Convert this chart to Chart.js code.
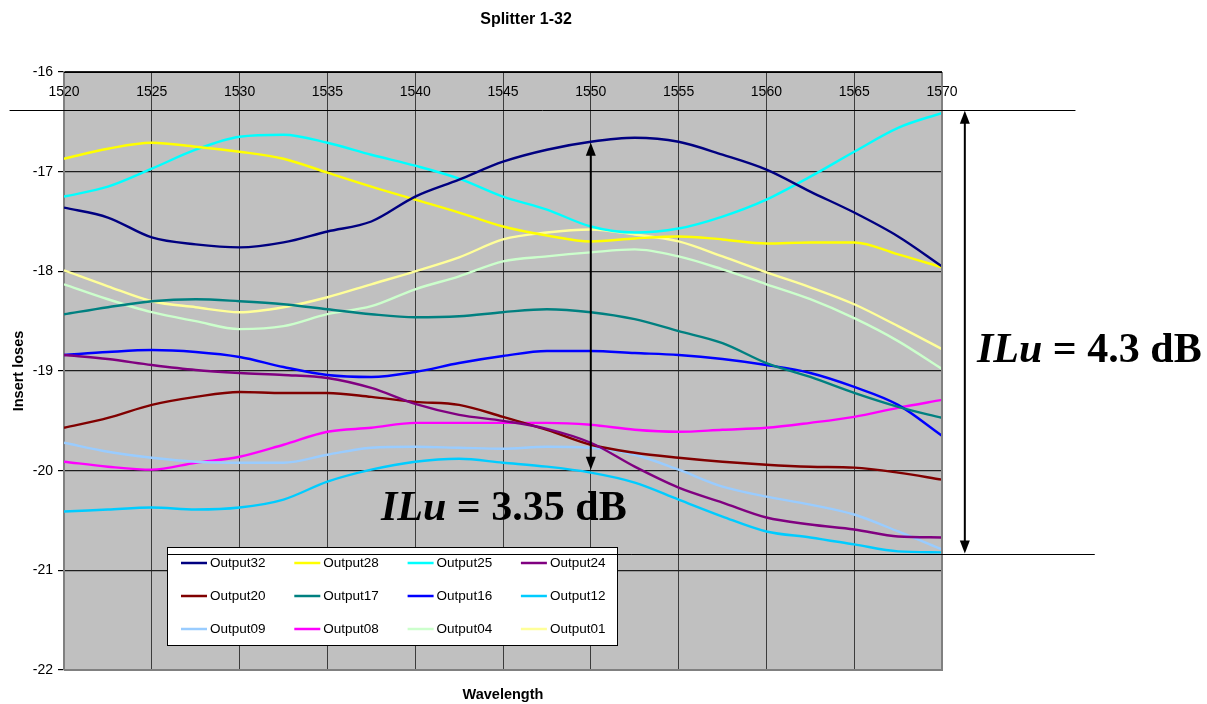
<!DOCTYPE html>
<html>
<head>
<meta charset="utf-8">
<script src="https://cdn.jsdelivr.net/npm/chart.js@4.4.1/dist/chart.umd.min.js"></script>
<style>
html,body{margin:0;padding:0;background:#ffffff;}
#wrap{width:1207px;height:704px;position:relative;}
</style>
</head>
<body>
<div id="wrap"><canvas id="c"></canvas></div>
<script>
// ---------- DATA ----------
const chartTitle = 'Splitter 1-32';
const xAxisTitle = 'Wavelength';
const yAxisTitle = 'Insert loses';
const xTickLabels = [1520, 1525, 1530, 1535, 1540, 1545, 1550, 1555, 1560, 1565, 1570];
const yTickValues = [-16, -17, -18, -19, -20, -21, -22];

const wavelengths = [1520, 1522.5, 1525, 1527.5, 1530, 1532.5, 1535, 1537.5, 1540, 1542.5, 1545,
                     1547.5, 1550, 1552.5, 1555, 1557.5, 1560, 1562.5, 1565, 1567.5, 1570];

const output32 = [-17.36, -17.46, -17.66, -17.73, -17.76, -17.71, -17.60, -17.50, -17.25, -17.08, -16.90,
                  -16.78, -16.70, -16.66, -16.70, -16.83, -16.98, -17.20, -17.41, -17.65, -17.95];
const output28 = [-16.87, -16.77, -16.71, -16.75, -16.80, -16.87, -17.01, -17.15, -17.28, -17.41, -17.55,
                  -17.64, -17.70, -17.67, -17.65, -17.68, -17.72, -17.71, -17.71, -17.83, -17.96];
const output25 = [-17.25, -17.15, -16.97, -16.78, -16.65, -16.63, -16.71, -16.83, -16.94, -17.07, -17.25,
                  -17.38, -17.55, -17.61, -17.57, -17.45, -17.28, -17.05, -16.80, -16.56, -16.41];
const output24 = [-18.84, -18.88, -18.94, -18.99, -19.02, -19.04, -19.07, -19.17, -19.33, -19.44, -19.50,
                  -19.58, -19.72, -19.96, -20.17, -20.32, -20.47, -20.54, -20.59, -20.66, -20.67];
const output20 = [-19.57, -19.47, -19.34, -19.26, -19.21, -19.22, -19.22, -19.26, -19.31, -19.34, -19.46,
                  -19.59, -19.74, -19.82, -19.87, -19.91, -19.94, -19.96, -19.97, -20.02, -20.09];
const output17 = [-18.43, -18.36, -18.30, -18.28, -18.30, -18.33, -18.38, -18.43, -18.46, -18.45, -18.41,
                  -18.38, -18.41, -18.48, -18.60, -18.72, -18.92, -19.06, -19.22, -19.36, -19.47];
const output16 = [-18.84, -18.81, -18.79, -18.81, -18.86, -18.96, -19.04, -19.06, -19.01, -18.92, -18.85,
                  -18.80, -18.80, -18.82, -18.84, -18.88, -18.94, -19.02, -19.16, -19.34, -19.65];
const output12 = [-20.41, -20.39, -20.37, -20.39, -20.37, -20.29, -20.11, -19.99, -19.91, -19.88, -19.92,
                  -19.96, -20.02, -20.12, -20.29, -20.46, -20.61, -20.67, -20.74, -20.81, -20.82];
const output09 = [-19.72, -19.81, -19.87, -19.91, -19.92, -19.92, -19.84, -19.77, -19.76, -19.77, -19.78,
                  -19.76, -19.77, -19.84, -19.99, -20.16, -20.26, -20.34, -20.44, -20.61, -20.79];
const output08 = [-19.91, -19.96, -19.99, -19.92, -19.86, -19.74, -19.61, -19.57, -19.52, -19.52, -19.52,
                  -19.52, -19.54, -19.59, -19.61, -19.59, -19.57, -19.52, -19.46, -19.37, -19.29];
const output04 = [-18.13, -18.28, -18.41, -18.50, -18.58, -18.55, -18.43, -18.35, -18.18, -18.05, -17.90,
                  -17.85, -17.81, -17.78, -17.85, -17.98, -18.13, -18.28, -18.47, -18.70, -18.98];
const output01 = [-17.99, -18.15, -18.30, -18.36, -18.41, -18.36, -18.26, -18.13, -18.00, -17.86, -17.68,
                  -17.61, -17.58, -17.63, -17.70, -17.85, -18.01, -18.16, -18.33, -18.55, -18.78];

const seriesNames = ['Output32', 'Output28', 'Output25', 'Output24',
                     'Output20', 'Output17', 'Output16', 'Output12',
                     'Output09', 'Output08', 'Output04', 'Output01'];
const seriesValues = [output32, output28, output25, output24,
                      output20, output17, output16, output12,
                      output09, output08, output04, output01];

// annotation values (data units)
const ilu335 = { label: ' = 3.35 dB', x: 1550, top: -16.71, bottom: -19.99 };
const ilu43  = { label: ' = 4.3 dB', x: 1571.3, top: -16.38, bottom: -20.84 };

// ---------- STYLES ----------
const seriesColors = ['#000080', '#FFFF00', '#00FFFF', '#800080',
                      '#800000', '#008080', '#0000FF', '#00CCFF',
                      '#99CCFF', '#FF00FF', '#CCFFCC', '#FFFF99'];
const SANS = '"Liberation Sans", Arial, sans-serif';
const SERIF = '"Liberation Serif", "Times New Roman", serif';

const datasets = seriesNames.map((name, k) => ({
  label: name,
  data: wavelengths.map((w, i) => ({ x: w, y: seriesValues[k][i] })),
  borderColor: seriesColors[k],
  backgroundColor: seriesColors[k],
  borderWidth: 2.4,
  pointRadius: 0,
  cubicInterpolationMode: 'monotone',
  fill: false
}));

const decor = {
  id: 'decor',
  beforeDraw(chart) {
    const { ctx, chartArea: a } = chart;
    ctx.save();
    ctx.fillStyle = '#C0C0C0';
    ctx.fillRect(a.left, a.top, a.right - a.left, a.bottom - a.top);
    ctx.restore();
  },
  afterDraw(chart) {
    const { ctx, chartArea: a } = chart;
    const xs = chart.scales.x, ys = chart.scales.y;
    ctx.save();
    // plot border (right & bottom)
    ctx.strokeStyle = '#808080';
    ctx.lineWidth = 2;
    ctx.beginPath();
    ctx.moveTo(a.right, a.top); ctx.lineTo(a.right, a.bottom); ctx.lineTo(a.left, a.bottom);
    ctx.stroke();
    // top border
    ctx.strokeStyle = '#000';
    ctx.lineWidth = 1;
    ctx.beginPath();
    ctx.moveTo(a.left, a.top + 0.5); ctx.lineTo(a.right, a.top + 0.5);
    ctx.stroke();

    // x tick labels (inside, below top edge)
    ctx.fillStyle = '#000';
    ctx.font = '14px ' + SANS;
    ctx.textAlign = 'center';
    ctx.textBaseline = 'middle';
    xTickLabels.forEach(v => ctx.fillText(String(v), xs.getPixelForValue(v), a.top + 20));

    // title
    ctx.font = 'bold 16px ' + SANS;
    ctx.fillText(chartTitle, 526, 20);
    // x axis title
    ctx.font = 'bold 14.5px ' + SANS;
    ctx.fillText(xAxisTitle, (a.left + a.right) / 2, 695);

    // legend
    const lx = 167, ly = 547, lw = 450, lh = 98;
    ctx.fillStyle = '#fff';
    ctx.fillRect(lx, ly, lw, lh);
    ctx.strokeStyle = '#000';
    ctx.lineWidth = 1;
    ctx.strokeRect(lx + 0.5, ly + 0.5, lw, lh);
    ctx.font = '13.5px ' + SANS;
    ctx.textAlign = 'left';
    ctx.textBaseline = 'middle';
    seriesNames.forEach((name, k) => {
      const col = k % 4, row = Math.floor(k / 4);
      const x0 = 181 + col * 113.3, y0 = 563 + row * 33;
      ctx.strokeStyle = seriesColors[k];
      ctx.lineWidth = 2.5;
      ctx.beginPath(); ctx.moveTo(x0, y0); ctx.lineTo(x0 + 26, y0); ctx.stroke();
      ctx.fillStyle = '#000';
      ctx.fillText(name, x0 + 29, y0 + 0.5);
    });

    // annotation horizontal reference lines
    ctx.strokeStyle = '#000';
    ctx.lineWidth = 1;
    const yTop = ys.getPixelForValue(ilu43.top), yBot = ys.getPixelForValue(ilu43.bottom);
    ctx.beginPath();
    ctx.moveTo(xs.getPixelForValue(1516.9), Math.round(yTop) + 0.5);
    ctx.lineTo(xs.getPixelForValue(1577.6), Math.round(yTop) + 0.5);
    ctx.moveTo(xs.getPixelForValue(1525.9), Math.round(yBot) + 0.5);
    ctx.lineTo(xs.getPixelForValue(1578.7), Math.round(yBot) + 0.5);
    ctx.stroke();

    function dblArrow(x, y1, y2) {
      const hl = 13, hw = 5;
      ctx.strokeStyle = '#000'; ctx.fillStyle = '#000'; ctx.lineWidth = 2;
      ctx.beginPath(); ctx.moveTo(x, y1 + hl - 1); ctx.lineTo(x, y2 - hl + 1); ctx.stroke();
      ctx.beginPath(); ctx.moveTo(x, y1); ctx.lineTo(x - hw, y1 + hl); ctx.lineTo(x + hw, y1 + hl); ctx.closePath(); ctx.fill();
      ctx.beginPath(); ctx.moveTo(x, y2); ctx.lineTo(x - hw, y2 - hl); ctx.lineTo(x + hw, y2 - hl); ctx.closePath(); ctx.fill();
    }
    dblArrow(xs.getPixelForValue(ilu335.x), ys.getPixelForValue(ilu335.top), ys.getPixelForValue(ilu335.bottom));
    dblArrow(xs.getPixelForValue(ilu43.x), yTop + 1, yBot - 1);

    function iluText(x, y, rest) {
      ctx.fillStyle = '#000';
      ctx.textAlign = 'left';
      ctx.textBaseline = 'alphabetic';
      ctx.font = 'italic bold 42px ' + SERIF;
      ctx.fillText('ILu', x, y);
      const w = ctx.measureText('ILu').width;
      ctx.font = 'bold 42px ' + SERIF;
      ctx.fillText(rest, x + w, y);
    }
    iluText(381, 520, ilu335.label);
    iluText(977, 362, ilu43.label);
    ctx.restore();
  }
};

new Chart(document.getElementById('c'), {
  type: 'line',
  data: { datasets },
  options: {
    responsive: true,
    maintainAspectRatio: false,
    animation: false,
    layout: { padding: { top: 72, right: 265, bottom: 34, left: 0 } },
    plugins: { legend: { display: false }, title: { display: false }, tooltip: { enabled: false } },
    scales: {
      x: {
        type: 'linear', position: 'top', min: 1520, max: 1570,
        ticks: { display: false, stepSize: 5 },
        grid: { color: '#3c3c3c', lineWidth: 1, drawTicks: false },
        border: { display: false },
        afterFit(s) { s.height = 0; }
      },
      y: {
        type: 'linear', min: -22, max: -16,
        afterBuildTicks(s) { s.ticks = yTickValues.map(v => ({ value: v })); },
        ticks: { color: '#000', font: { family: SANS, size: 14 }, padding: 5 },
        grid: { color: '#1e1e1e', lineWidth: 1.2, tickLength: 6, tickColor: '#000', drawTicks: true },
        border: { color: '#808080', width: 2 },
        title: { display: true, text: yAxisTitle, color: '#000', font: { family: SANS, size: 14.5, weight: 'bold' }, padding: { top: 10, bottom: 0 } },
        afterFit(s) { s.width = 64; }
      }
    }
  },
  plugins: [decor]
});
</script>
</body>
</html>
